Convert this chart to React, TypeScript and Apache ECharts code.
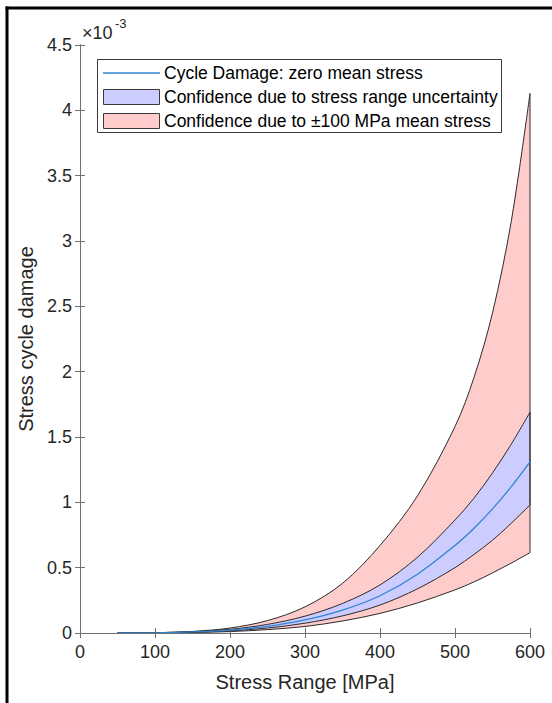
import React, { useEffect, useRef } from "react";
import * as echarts from "echarts";

// Stress range [MPa]
const stressRange = [50, 100, 150, 200, 250, 300, 350, 400, 450, 500, 525, 550, 575, 600];
// Damage values (×1e-3)
const zeroMean = [0.0001, 0.0017, 0.008, 0.022, 0.051, 0.1, 0.175, 0.285, 0.45, 0.67, 0.8, 0.95, 1.12, 1.31];
const blueUpper = [0.00013, 0.0022, 0.0103, 0.028, 0.066, 0.129, 0.226, 0.368, 0.58, 0.865, 1.03, 1.225, 1.445, 1.69];
const blueLower = [0.0001, 0.0013, 0.006, 0.0165, 0.038, 0.075, 0.131, 0.214, 0.338, 0.5, 0.6, 0.71, 0.84, 0.98];
const redUpper = [0.0002, 0.0025, 0.012, 0.038, 0.095, 0.2, 0.38, 0.67, 1.05, 1.58, 1.95, 2.45, 3.15, 4.13];
const redLower = [0.00005, 0.0009, 0.004, 0.011, 0.026, 0.05, 0.092, 0.15, 0.23, 0.33, 0.39, 0.46, 0.535, 0.615];

const xTicks = { min: 0, max: 600, interval: 100 };
const yTicks = { min: 0, max: 4.5e-3, interval: 0.5e-3 };

const legendLabels = [
  "Cycle Damage: zero mean stress",
  "Confidence due to stress range uncertainty",
  "Confidence due to \u00b1100 MPa mean stress",
];

const FONT = "'Liberation Sans', Arial, Helvetica, sans-serif";
const EDGE = "#2b2b2b";
const RED_FILL = "#FFCCCC";
const BLUE_FILL = "#CCCCFF";
const LINE_BLUE = "#2f83d3";
const AXIS = "#707070";
const TEXT = "#262626";

const scale = (arr: number[]) => arr.map((v) => v * 1e-3);

export default function App() {
  const ref = useRef<HTMLDivElement>(null);
  useEffect(() => {
    if (!ref.current) return;
    const chart = echarts.init(ref.current, null, { renderer: "svg" });
    const rl = scale(redLower);
    const ru = scale(redUpper);
    const bl = scale(blueLower);
    const bu = scale(blueUpper);
    const zm = scale(zeroMean);
    const pts = (ys: number[]) => stressRange.map((x, i) => [x, ys[i]]);
    const last = stressRange.length - 1;
    const xLast = stressRange[last];

    const SMOOTH = 0.33;

    // filled area from curve down to zero (painted in nested order)
    const fill = (name: string, ys: number[], color: string, z: number) => ({
      name,
      type: "line",
      data: pts(ys),
      smooth: SMOOTH,
      symbol: "none",
      z,
      lineStyle: { width: 0, opacity: 0 },
      areaStyle: { color, opacity: 1, origin: "start" },
      silent: true,
    });

    const edge = (name: string, data: any[], color = EDGE, width = 1, z = 5) => ({
      name,
      type: "line",
      data,
      smooth: SMOOTH,
      symbol: "none",
      z,
      lineStyle: { color, width },
      silent: true,
    });

    const axisCommon = {
      z: 10,
      axisLine: { show: true, lineStyle: { color: AXIS, width: 1 } },
      axisTick: { show: true, inside: true, length: 5, lineStyle: { color: AXIS, width: 1 } },
      splitLine: { show: false },
    };

    chart.setOption({
      animation: false,
      backgroundColor: "#fff",
      grid: { left: 80, right: 22, top: 45, bottom: 70, containLabel: false },
      xAxis: [
        {
          type: "value",
          position: "bottom",
          ...xTicks,
          ...axisCommon,
          axisLabel: { fontSize: 18, color: TEXT, margin: 10, fontFamily: FONT },
          name: "Stress Range [MPa]",
          nameLocation: "middle",
          nameGap: 39,
          nameTextStyle: { fontSize: 20, color: TEXT, fontFamily: FONT },
        },
        {
          type: "value",
          position: "top",
          ...xTicks,
          ...axisCommon,
          axisLabel: { show: false },
        },
      ],
      yAxis: [
        {
          type: "value",
          position: "left",
          ...yTicks,
          ...axisCommon,
          axisLabel: {
            fontSize: 18,
            color: TEXT,
            margin: 8,
            fontFamily: FONT,
            formatter: (v: number) => String(+(v * 1000).toFixed(2)),
          },
          name: "Stress cycle damage",
          nameLocation: "middle",
          nameGap: 40,
          nameTextStyle: { fontSize: 20, color: TEXT, fontFamily: FONT },
        },
        {
          type: "value",
          position: "right",
          ...yTicks,
          ...axisCommon,
          axisLabel: { show: false },
        },
      ],
      series: [
        fill("redUpperFill", ru, RED_FILL, 2),
        fill("blueUpperFill", bu, BLUE_FILL, 2),
        fill("blueLowerFill", bl, RED_FILL, 2),
        fill("redLowerFill", rl, "#ffffff", 2),
        edge("redUpper", pts(ru)),
        edge("redLower", pts(rl)),
        edge("blueUpper", pts(bu)),
        edge("blueLower", pts(bl)),
        edge("redEdge", [[xLast, rl[last]], [xLast, ru[last]]]),
        edge("blueEdge", [[xLast, bl[last]], [xLast, bu[last]]]),
        edge("zeroMean", pts(zm), LINE_BLUE, 1.3, 6),
      ],
      graphic: [
        // outer frame (left & top)
        { type: "line", shape: { x1: 7, y1: 6.5, x2: 7, y2: 703 }, style: { stroke: "#000", lineWidth: 3 }, z: 100 },
        { type: "line", shape: { x1: 5.5, y1: 8, x2: 552, y2: 8 }, style: { stroke: "#000", lineWidth: 3 }, z: 100 },
        // exponent
        { type: "text", x: 82, y: 33, style: { text: "\u00d710", fontSize: 18, fontFamily: FONT, fill: TEXT, textVerticalAlign: "middle" }, z: 100 },
        { type: "text", x: 115, y: 23, style: { text: "-3", fontSize: 13, fontFamily: FONT, fill: TEXT, textVerticalAlign: "middle" }, z: 100 },
        // legend
        { type: "rect", shape: { x: 97.5, y: 59.5, width: 404, height: 73 }, style: { fill: "#fff", stroke: "#3a3a3a", lineWidth: 1 }, z: 100 },
        { type: "line", shape: { x1: 103, y1: 73, x2: 160, y2: 73 }, style: { stroke: LINE_BLUE, lineWidth: 1.3 }, z: 101 },
        { type: "rect", shape: { x: 103.5, y: 89.5, width: 56, height: 15 }, style: { fill: BLUE_FILL, stroke: "#3a3a3a", lineWidth: 1 }, z: 101 },
        { type: "rect", shape: { x: 103.5, y: 113.5, width: 56, height: 15 }, style: { fill: RED_FILL, stroke: "#3a3a3a", lineWidth: 1 }, z: 101 },
        ...legendLabels.map((t, i) => ({
          type: "text",
          x: 164,
          y: 73 + i * 24,
          style: { text: t, fontSize: 17.5, fontFamily: FONT, fill: "#000", textVerticalAlign: "middle" },
          z: 101,
        })),
      ],
    });
    return () => chart.dispose();
  }, []);
  return (
    <div
      ref={ref}
      style={{ position: "fixed", left: 0, top: 0, width: 552, height: 703, background: "#fff" }}
    />
  );
}
